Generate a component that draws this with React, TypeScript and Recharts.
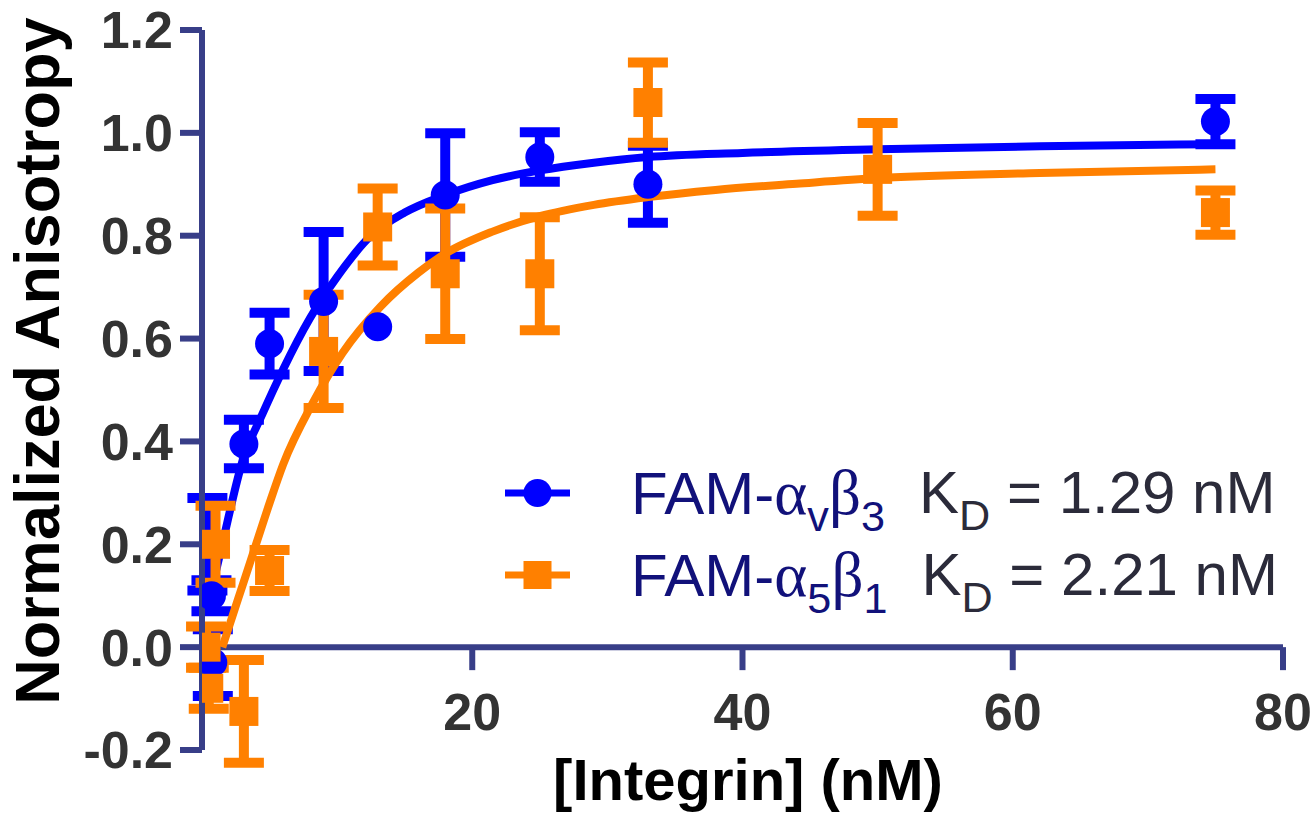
import {
  ComposedChart,
  Line,
  Scatter,
  ErrorBar,
  XAxis,
  YAxis,
  ReferenceLine,
} from 'recharts';

// FAM-avb3 measurements
const avb3Conc = [0.4, 0.7, 0.8, 3.1, 5.0, 9.0, 13.0, 18.0, 25.0, 33.0, 75.0];
const avb3Aniso = [0.2, 0.1, -0.03, 0.395, 0.59, 0.672, 0.623, 0.879, 0.953, 0.9, 1.022];
const avb3Err = [0.09, 0.03, 0.065, 0.047, 0.06, 0.135, null, 0.12, 0.048, 0.075, 0.044];

// FAM-a5b1 measurements
const a5b1Conc = [0.3, 0.5, 1.0, 3.1, 5.0, 9.0, 13.0, 18.0, 25.0, 33.0, 50.0, 75.0];
const a5b1Aniso = [0.0, -0.08, 0.2, -0.125, 0.149, 0.575, 0.817, 0.726, 0.726, 1.059, 0.929, 0.845];
const a5b1Err = [0.04, 0.04, 0.075, 0.1, 0.04, 0.11, 0.075, 0.127, 0.11, 0.078, 0.09, 0.043];

// fitted curves
const avb3FitX = [0.7, 1.5, 3, 4.5, 6, 8, 10, 12.5, 15, 18, 21.5, 25, 29, 33, 40, 50, 62, 75];
const avb3FitY = [0.11, 0.2, 0.362, 0.455, 0.54, 0.64, 0.72, 0.8, 0.845, 0.879, 0.908, 0.927, 0.942, 0.953, 0.961, 0.968, 0.974, 0.978];
const a5b1FitX = [1.5, 3, 4, 5, 6, 8.2, 10.4, 13.2, 16, 18, 21.5, 25, 29, 33, 38, 44, 50, 62, 75];
const a5b1FitY = [0.0, 0.12, 0.2, 0.28, 0.355, 0.475, 0.572, 0.662, 0.728, 0.765, 0.808, 0.838, 0.86, 0.875, 0.889, 0.901, 0.912, 0.922, 0.929];

const xTicks = [20, 40, 60, 80];
const yTicks = [-0.2, 0, 0.2, 0.4, 0.6, 0.8, 1.0, 1.2];
const Y_MIN = -0.2;
const Y_MAX = 1.2;

const BLUE = '#0000ff';
const ORANGE = '#ff8000';
const AXIS = '#383e88';
const TICK_TEXT = '#333333';
const FONT = '"Liberation Sans", Arial, sans-serif';

const WIDTH = 1314;
const HEIGHT = 815;
const MARGIN = { top: 30, right: 31, bottom: 0, left: 0 };
const X_AXIS_H = 65;
const PLOT_H = HEIGHT - MARGIN.top - MARGIN.bottom - X_AXIS_H;
// distance from the bottom of the plot to y = 0, where the x axis sits
const ZERO_SHIFT = (PLOT_H * (0 - Y_MIN)) / (Y_MAX - Y_MIN);

const avb3Points = avb3Conc.map((x, i) => ({ x, y: avb3Aniso[i], err: avb3Err[i] }));
const a5b1Points = a5b1Conc.map((x, i) => ({ x, y: a5b1Aniso[i], err: a5b1Err[i] }));
const avb3Fit = avb3FitX.map((x, i) => ({ x, y: avb3FitY[i] }));
const a5b1Fit = a5b1FitX.map((x, i) => ({ x, y: a5b1FitY[i] }));

const Dot = (props: any) => {
  const { cx, cy } = props;
  if (cx == null || cy == null) return null;
  return <circle cx={cx} cy={cy} r={14.5} fill={BLUE} />;
};

const Square = (props: any) => {
  const { cx, cy } = props;
  if (cx == null || cy == null) return null;
  return <rect x={cx - 14.5} y={cy - 14.5} width={29} height={29} fill={ORANGE} />;
};

const XTick = (props: any) => {
  const { x, y, payload } = props;
  const y0 = y - ZERO_SHIFT;
  return (
    <g>
      <line x1={x} y1={y0} x2={x} y2={y0 + 23} stroke={AXIS} strokeWidth={6} />
      <text
        x={x}
        y={y0 + 83}
        textAnchor="middle"
        fontFamily={FONT}
        fontWeight={700}
        fontSize={52}
        fill={TICK_TEXT}
      >
        {payload.value}
      </text>
    </g>
  );
};

const YTitle = () => (
  <text
    transform="translate(59,361) rotate(-90)"
    textAnchor="middle"
    fontFamily={FONT}
    fontWeight={700}
    fontSize={63}
    fill="#000"
  >
    Normalized Anisotropy
  </text>
);

const XTitle = () => (
  <text x={748} y={800} textAnchor="middle" fontFamily={FONT} fontWeight={700} fontSize={58} fill="#000">
    [Integrin] (nM)
  </text>
);

const greek = { fontFamily: '"Liberation Serif", "DejaVu Serif", serif', fontSize: '1.05em' };
const subStyle = { fontSize: '0.72em', verticalAlign: '-0.4em', lineHeight: 0 };

const LegendIcon = ({ color, square }: { color: string; square?: boolean }) => (
  <svg width={70} height={40} style={{ display: 'block', flex: 'none' }}>
    <line x1={2} y1={20} x2={67} y2={20} stroke={color} strokeWidth={7} />
    {square ? (
      <rect x={20.5} y={6} width={28} height={28} fill={color} />
    ) : (
      <circle cx={34.5} cy={20} r={14} fill={color} />
    )}
  </svg>
);

const legendRows = [
  { color: BLUE, square: false, sub1: 'v', sub2: '3', kd: '1.29' },
  { color: ORANGE, square: true, sub1: '5', sub2: '1', kd: '2.21' },
];

const ChartLegend = () => (
  <div style={{ position: 'absolute', left: 503, top: 452, fontFamily: FONT, fontSize: 60 }}>
    {legendRows.map((r) => (
      <div key={r.kd} style={{ display: 'flex', alignItems: 'center', height: 82, lineHeight: '82px' }}>
        <LegendIcon color={r.color} square={r.square} />
        <span style={{ marginLeft: 58, color: '#11117a', whiteSpace: 'nowrap' }}>
          FAM-<span style={greek}>α</span>
          <span style={subStyle}>{r.sub1}</span>
          <span style={greek}>β</span>
          <span style={subStyle}>{r.sub2}</span>
        </span>
        <span style={{ marginLeft: 34, color: '#2b2b3a', whiteSpace: 'nowrap' }}>
          K<span style={subStyle}>D</span> = {r.kd} nM
        </span>
      </div>
    ))}
  </div>
);

export default function App() {
  return (
    <div style={{ position: 'absolute', left: 0, top: 0, width: WIDTH, height: HEIGHT, background: '#fff' }}>
      <ComposedChart width={WIDTH} height={HEIGHT} margin={MARGIN}>
        <XAxis
          type="number"
          dataKey="x"
          domain={[0, 80]}
          ticks={xTicks}
          height={X_AXIS_H}
          axisLine={false}
          tickLine={false}
          tickSize={0}
          tickMargin={0}
          tick={<XTick />}
          allowDataOverflow
          label={<XTitle />}
        />
        <YAxis
          type="number"
          dataKey="y"
          domain={[Y_MIN, Y_MAX]}
          ticks={yTicks}
          width={202}
          tickFormatter={(v: number) => v.toFixed(1)}
          axisLine={{ stroke: AXIS, strokeWidth: 6 }}
          tickLine={{ stroke: AXIS, strokeWidth: 6 }}
          tickSize={22}
          tickMargin={7}
          tick={{ fontFamily: FONT, fontWeight: 700, fontSize: 52, fill: TICK_TEXT }}
          allowDataOverflow
          label={<YTitle />}
        />
        <ReferenceLine y={0} stroke={AXIS} strokeWidth={6} />
        <Line
          data={avb3Fit}
          dataKey="y"
          type="monotone"
          stroke={BLUE}
          strokeWidth={8}
          dot={false}
          activeDot={false}
          isAnimationActive={false}
        />
        <Scatter data={avb3Points} dataKey="y" shape={<Dot />} isAnimationActive={false}>
          <ErrorBar dataKey="err" direction="y" width={20} stroke={BLUE} strokeWidth={10} />
        </Scatter>
        <Line
          data={a5b1Fit}
          dataKey="y"
          type="monotone"
          stroke={ORANGE}
          strokeWidth={8}
          dot={false}
          activeDot={false}
          isAnimationActive={false}
        />
        <Scatter data={a5b1Points} dataKey="y" shape={<Square />} isAnimationActive={false}>
          <ErrorBar dataKey="err" direction="y" width={20} stroke={ORANGE} strokeWidth={10} />
        </Scatter>
      </ComposedChart>
      <ChartLegend />
    </div>
  );
}
